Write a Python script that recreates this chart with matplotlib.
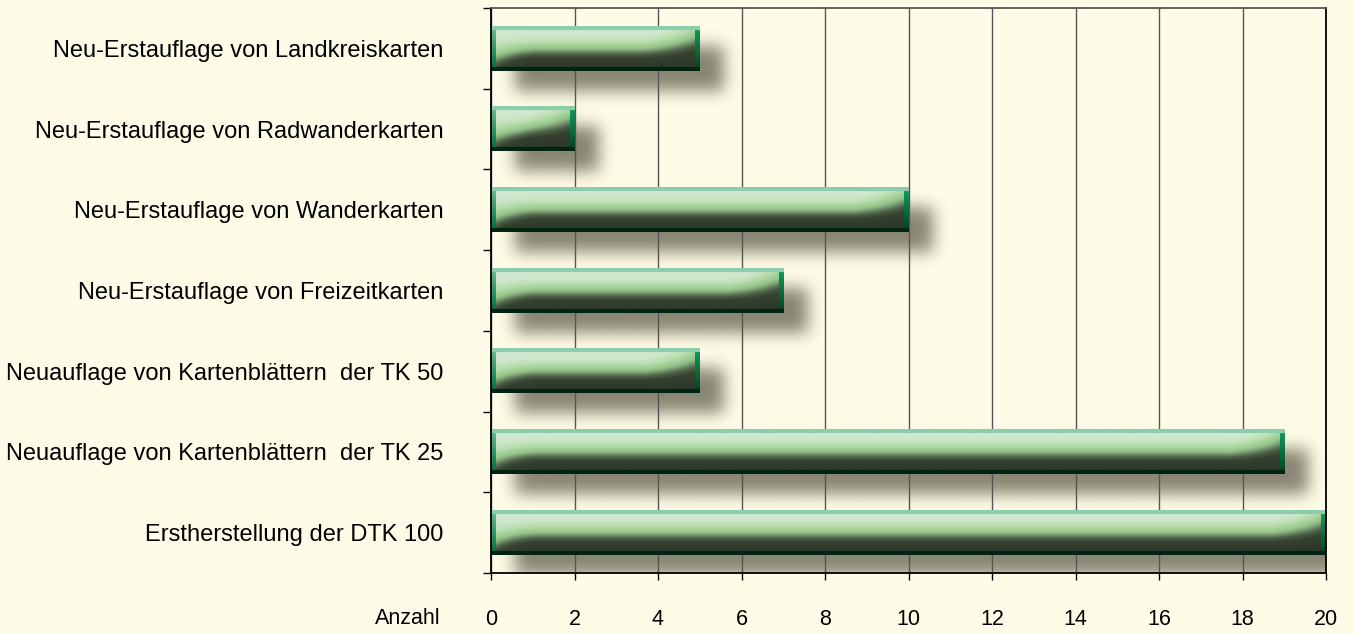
import numpy as np
import matplotlib.pyplot as plt
from matplotlib.colors import to_rgb

# Kartenherstellung, Anzahl
labels = [
    'Neu-Erstauflage von Landkreiskarten',
    'Neu-Erstauflage von Radwanderkarten',
    'Neu-Erstauflage von Wanderkarten',
    'Neu-Erstauflage von Freizeitkarten',
    'Neuauflage von Kartenblättern  der TK 50',
    'Neuauflage von Kartenblättern  der TK 25',
    'Ersthherstellung der DTK 100'.replace('hh', 'h'),
]
values = [5, 2, 10, 7, 5, 19, 20]
xticks = list(range(0, 21, 2))
xlabel = 'Anzahl'

BG = '#fefce6'
W_PX, H_PX = 1355, 634
AX_POS = [491 / W_PX, 61 / H_PX, 835 / W_PX, 565 / H_PX]
BAR_H = 0.55

# vertical colour profile of the glossy bars (top -> bottom)
stops_t = [0.0, 0.22, 0.33, 0.42, 0.5, 0.56, 0.63, 0.72, 1.0]
stops_c = ['#d6ead5', '#cfe6cb', '#bde0b4', '#a7d39b', '#94c288', '#75966e', '#4e6149', '#36412f', '#2b3429']
stop_rgb = np.array([to_rgb(c) for c in stops_c])


def profile(t):
    return np.stack([np.interp(t, stops_t, stop_rgb[:, k]) for k in range(3)], axis=-1)


def blend_rows(a, b, n):
    f = np.linspace(0, 1, n)[:, None]
    return np.array(to_rgb(a)) * (1 - f) + np.array(to_rgb(b)) * f


def bar_image(W, H):
    r = np.arange(H)[:, None] / (H - 1)
    c = np.arange(W)[None, :]
    t = np.broadcast_to(r, (H, W)).copy()
    left = np.clip(1 - c / (1.0 * H), 0, 1)
    t = t - 0.3 * left ** 1.5 * r
    ramp = np.clip((c - (W - 1.3 * H)) / (1.3 * H), 0, 1)
    t = t + 0.4 * ramp ** 1.3 * (1 - r)
    img = profile(np.clip(t, 0, 1))
    b = 5
    img[:, :b] = blend_rows('#6cc096', '#006a34', H)[:, None, :]
    img[:, -b:] = blend_rows('#14a062', '#00401e', H)[:, None, :]
    img[:4, :] = np.array(to_rgb('#8ccdac'))
    img[-4:, :] = np.array(to_rgb('#00240f'))
    return img


def blur(a, sigma):
    k = np.arange(-3 * sigma, 3 * sigma + 1)
    g = np.exp(-k ** 2 / (2 * sigma ** 2))
    g /= g.sum()
    a = np.apply_along_axis(lambda m: np.convolve(m, g, mode='same'), 0, a)
    a = np.apply_along_axis(lambda m: np.convolve(m, g, mode='same'), 1, a)
    return a


plt.rcParams['font.family'] = ['Liberation Sans', 'DejaVu Sans']
fig = plt.figure(figsize=(W_PX / 100, H_PX / 100), dpi=100, facecolor=BG)
ax = fig.add_axes(AX_POS)
ax.set_facecolor(BG)

ys = np.arange(len(labels))
sx = AX_POS[2] * W_PX / (xticks[-1] - xticks[0])
sy = AX_POS[3] * H_PX / len(labels)

# shadows
dx, dy, pad, sigma = 24, 20, 34, 8
for y, v in zip(ys, values):
    W = int(round(v * sx))
    H = int(round(BAR_H * sy))
    mask = np.zeros((H + 2 * pad, W + 2 * pad))
    mask[pad:pad + H, pad:pad + W] = 1
    mask = blur(mask, sigma)
    rgba = np.zeros(mask.shape + (4,))
    rgba[..., :3] = to_rgb('#3e3b2c')
    rgba[..., 3] = mask * 0.62
    x0 = (dx - pad) / sx
    x1 = v + (dx + pad) / sx
    y0 = y - BAR_H / 2 + (dy - pad) / sy
    y1 = y + BAR_H / 2 + (dy + pad) / sy
    ax.imshow(rgba, extent=[x0, x1, y1, y0], aspect='auto',
              interpolation='bilinear', zorder=0.5)

# bars
bars = ax.barh(ys, values, height=BAR_H, facecolor='none', edgecolor='none', zorder=3)
for rect, v in zip(bars, values):
    W = int(round(v * sx))
    H = int(round(BAR_H * sy))
    x, yb = rect.get_x(), rect.get_y()
    ax.imshow(bar_image(W, H), extent=[x, x + rect.get_width(), yb + rect.get_height(), yb],
              aspect='auto', interpolation='bilinear', zorder=2)

ax.set_xlim(xticks[0], xticks[-1])
ax.set_ylim(len(labels) - 0.5, -0.5)

ax.set_xticks(xticks)
ax.set_xticklabels([str(x) for x in xticks], fontsize=15.5)
ax.set_yticks(ys)
ax.set_yticklabels(labels, fontsize=17)
ax.set_yticks(np.arange(len(labels) + 1) - 0.5, minor=True)

ax.tick_params(axis='y', which='major', length=0, pad=34)
ax.tick_params(axis='y', which='minor', length=6, width=1, color='black', direction='out')
ax.tick_params(axis='x', which='major', length=5, width=1, color='black', direction='out', pad=21)

ax.grid(axis='x', color='#555555', linewidth=1, zorder=1)
ax.set_axisbelow(True)
for side in ['left', 'bottom', 'right']:
    ax.spines[side].set_color('black')
    ax.spines[side].set_linewidth(1.3)
ax.spines['top'].set_color('#555555')
ax.spines['top'].set_linewidth(1.3)

fig.text(441 / W_PX, 1 - 618 / H_PX, xlabel, ha='right', va='center', fontsize=15.5)

fig.savefig('out.png', dpi=100, facecolor=BG)
